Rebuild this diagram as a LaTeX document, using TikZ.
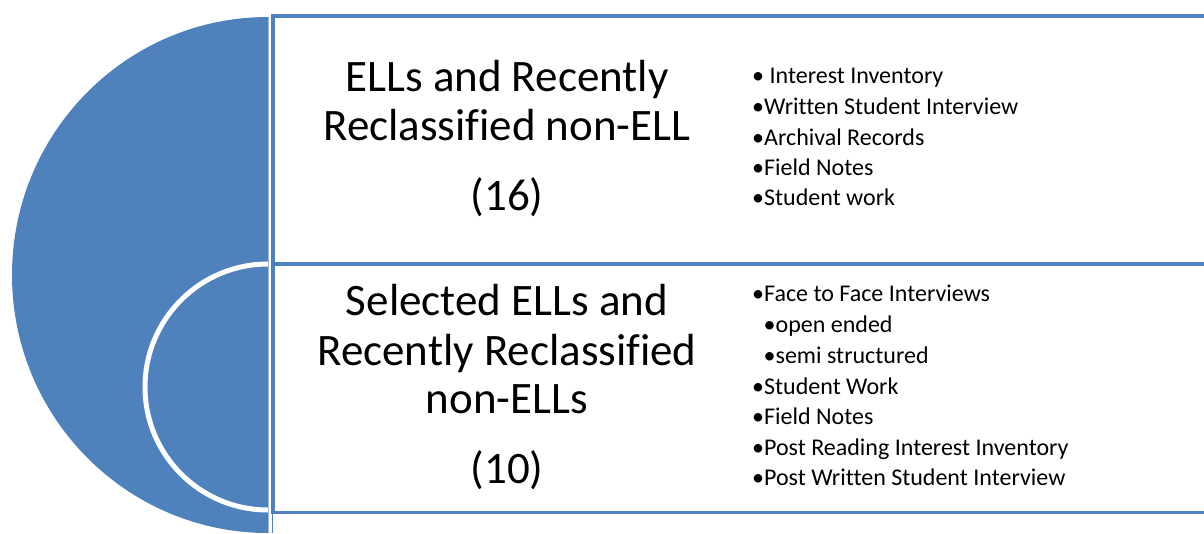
\documentclass[tikz,border=0pt]{standalone}
\usepackage{fontspec}
\setmainfont{Carlito}[Ligatures={NoCommon}]
\definecolor{obBlue}{HTML}{4F81BD}
\definecolor{obLight}{HTML}{9DB7DA}
\begin{document}
\begin{tikzpicture}[x=1pt,y=-1pt,
  panel/.style={draw=obBlue,line width=3.5pt,fill=white,inner sep=0pt,anchor=north west},
  title/.style={font=\fontsize{45}{49}\selectfont,inner sep=0pt,anchor=base},
  item/.style={font=\fontsize{24}{30}\selectfont,inner sep=0pt,anchor=base west}]
\useasboundingbox (0,0) rectangle (1204,533);
\begin{scope}
  \clip (0,0) rectangle (268,533);
  \fill[obBlue] (268,275) ellipse [x radius=256, y radius=258];
  \draw[white,line width=5pt] (268,387) circle [radius=123];
\end{scope}
\draw[obLight,line width=1pt] (268.6,17) -- (268.6,533);
\draw[obBlue,line width=1.2pt] (272.6,510) -- (272.6,533);
\node[panel,minimum width=938.7pt,minimum height=247.7pt] (top) at (271.3,14.3) {};
\node[panel,minimum width=938.7pt,minimum height=248.5pt] (bottom) at (271.3,262) {};
% titles
\node[title] (t1a) at (507,91.7) {ELLs and Recently};
\node[title] (t1b) at (507,140) {Reclassified non-ELL};
\node[title] (c1) at (507,210) {(16)};
\node[title] (t2a) at (507,315) {Selected ELLs and};
\node[title] (t2b) at (507,365) {Recently Reclassified};
\node[title] (t2c) at (507,413.3) {non-ELLs};
\node[title] (c2) at (507,483.3) {(10)};
% first list
\node[item] (a1) at (752,83.3) {• Interest Inventory};
\node[item] (a2) at (752,114.3) {•Written Student Interview};
\node[item] (a3) at (752,145) {•Archival Records};
\node[item] (a4) at (752,175.5) {•Field Notes};
\node[item] (a5) at (752,205.7) {•Student work};
% second list
\node[item] (b1) at (752,301.7) {•Face to Face Interviews};
\node[item] (b2) at (763.5,332.3) {•open ended};
\node[item] (b3) at (763.5,363.3) {•semi structured};
\node[item] (b4) at (752,394) {•Student Work};
\node[item] (b5) at (752,424.5) {•Field Notes};
\node[item] (b6) at (752,455) {•Post Reading Interest Inventory};
\node[item] (b7) at (752,485.7) {•Post Written Student Interview};
\end{tikzpicture}
\end{document}
